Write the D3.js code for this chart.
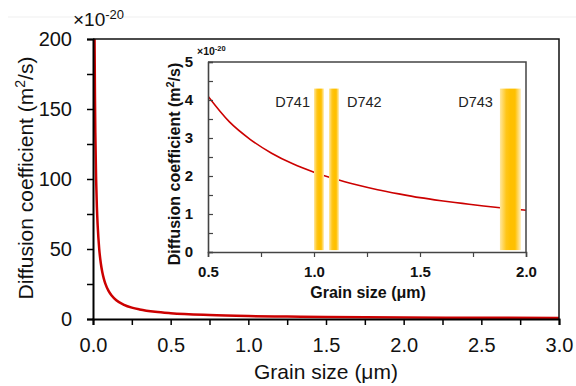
<!DOCTYPE html>
<html>
<head>
<meta charset="utf-8">
<script src="https://cdn.jsdelivr.net/npm/d3@7"></script>
<style>
  html, body { margin: 0; padding: 0; background: #fff; }
  svg { display: block; font-family: Arial, "Liberation Sans", sans-serif; }
</style>
</head>
<body>
<svg id="chart" width="576" height="386"></svg>
<script>
// ---- data ----
const mainGrain = [0.01, 0.0125, 0.015, 0.02, 0.025, 0.03, 0.04, 0.05, 0.06, 0.07, 0.08, 0.1, 0.12, 0.15, 0.2, 0.25, 0.3, 0.4, 0.5, 0.75, 1.0, 1.25, 1.5, 2.0, 2.5, 3.0];
const mainD     = [200, 160, 133, 100, 80, 67, 50, 40, 33.4, 28.7, 25.1, 20.1, 16.8, 13.4, 10.1, 8.1, 6.8, 5.1, 4.1, 2.8, 2.1, 1.7, 1.43, 1.1, 0.9, 0.77];

const insetGrain = [0.5, 0.6, 0.7, 0.8, 0.9, 1.0, 1.1, 1.2, 1.3, 1.4, 1.5, 1.6, 1.7, 1.8, 1.9, 2.0];
const insetD     = [4.1, 3.43, 2.96, 2.6, 2.32, 2.1, 1.92, 1.77, 1.64, 1.53, 1.43, 1.35, 1.28, 1.21, 1.15, 1.1];

const bandLabels = ["D741", "D742", "D743"];
const bandStart  = [1.0, 1.071, 1.877];
const bandEnd    = [1.047, 1.118, 1.976];
const bandTop    = 4.3;
const bandBottom = 0.05;

const mainXTicks = [0, 0.5, 1.0, 1.5, 2.0, 2.5, 3.0];
const mainXMinor = [0.25, 0.75, 1.25, 1.75, 2.25, 2.75];
const mainYTicks = [0, 50, 100, 150, 200];
const mainYMinor = [25, 75, 125, 175];
const insetXTicks = [0.5, 1.0, 1.5, 2.0];
const insetXMinor = [0.75, 1.25, 1.75];
const insetYTicks = [0, 1, 2, 3, 4, 5];
const insetYMinor = [0.5, 1.5, 2.5, 3.5, 4.5];

// ---- layout ----
const svg = d3.select("#chart");
const M = { left: 93, right: 559, top: 39, bottom: 319 };
const I = { left: 208, right: 526, top: 62, bottom: 252 };

svg.append("line").attr("x1", 8).attr("x2", 576).attr("y1", 17).attr("y2", 17)
  .attr("stroke", "#efefef").attr("stroke-width", 1);

const x = d3.scaleLinear().domain([0, 3]).range([M.left, M.right]);
const y = d3.scaleLinear().domain([0, 200]).range([M.bottom, M.top]);

const defs = svg.append("defs");
defs.append("clipPath").attr("id", "mainClip").append("rect")
  .attr("x", M.left).attr("y", M.top).attr("width", M.right - M.left).attr("height", M.bottom - M.top);
defs.append("clipPath").attr("id", "insetClip").append("rect")
  .attr("x", I.left).attr("y", I.top).attr("width", I.right - I.left).attr("height", I.bottom - I.top);
const grad = defs.append("linearGradient").attr("id", "bandGrad")
  .attr("x1", "0%").attr("x2", "100%").attr("y1", "0%").attr("y2", "0%");
[["0%", "#FFE7A0"], ["30%", "#FFC619"], ["50%", "#FFC000"], ["72%", "#FFC000"], ["100%", "#FFEFC0"]]
  .forEach(([o, c]) => grad.append("stop").attr("offset", o).attr("stop-color", c));

// main curve
const mainPts = mainGrain.map((g, i) => [g, mainD[i]]);
svg.append("path").datum(mainPts)
  .attr("clip-path", "url(#mainClip)")
  .attr("fill", "none").attr("stroke", "#CC0000").attr("stroke-width", 2.5)
  .attr("d", d3.line().x(d => x(d[0])).y(d => y(d[1])).curve(d3.curveMonotoneX));

// main frame top/right
svg.append("path")
  .attr("d", `M${M.left},${M.top}H${M.right}V${M.bottom}`)
  .attr("fill", "none").attr("stroke", "#111").attr("stroke-width", 1.5);

// main axes
function styleAxis(g, color, w, fontSize, weight) {
  g.select(".domain").attr("stroke", color).attr("stroke-width", w);
  g.selectAll(".tick line").attr("stroke", color).attr("stroke-width", w * 0.75);
  g.selectAll(".tick text").attr("fill", "#111").attr("font-size", fontSize)
    .attr("font-weight", weight).attr("font-family", 'Arial, "Liberation Sans", sans-serif');
}

const gx = svg.append("g").attr("transform", `translate(0,${M.bottom})`)
  .call(d3.axisBottom(x).tickValues(mainXTicks).tickFormat(d3.format(".1f")).tickSizeOuter(0).tickSize(6).tickPadding(13));
styleAxis(gx, "#000", 2, 20, "normal");
svg.append("g").attr("transform", `translate(0,${M.bottom})`)
  .call(d3.axisBottom(x).tickValues(mainXMinor).tickFormat("").tickSizeOuter(0).tickSize(6))
  .call(g => { g.select(".domain").remove(); g.selectAll("line").attr("stroke", "#000").attr("stroke-width", 1.5); });

const gy = svg.append("g").attr("transform", `translate(${M.left},0)`)
  .call(d3.axisLeft(y).tickValues(mainYTicks).tickFormat(d3.format("d")).tickSizeOuter(0).tickSize(6).tickPadding(15));
styleAxis(gy, "#000", 2, 20, "normal");
svg.append("g").attr("transform", `translate(${M.left},0)`)
  .call(d3.axisLeft(y).tickValues(mainYMinor).tickFormat("").tickSizeOuter(0).tickSize(6))
  .call(g => { g.select(".domain").remove(); g.selectAll("line").attr("stroke", "#000").attr("stroke-width", 1.5); });

// main titles
svg.append("text").attr("x", 326).attr("y", 379).attr("text-anchor", "middle")
  .attr("font-size", 21).attr("fill", "#111").text("Grain size (μm)");
const yt = svg.append("text").attr("transform", "translate(33,178) rotate(-90)")
  .attr("text-anchor", "middle").attr("font-size", 21).attr("fill", "#111");
yt.append("tspan").text("Diffusion coefficient (m");
yt.append("tspan").attr("font-size", 14).attr("dy", -8).text("2");
yt.append("tspan").attr("dy", 8).text("/s)");

const ex = svg.append("text").attr("x", 73).attr("y", 26).attr("font-size", 19).attr("fill", "#111");
ex.append("tspan").text("×10");
ex.append("tspan").attr("font-size", 13).attr("dy", -7).text("-20");

// ---- inset ----
const xi = d3.scaleLinear().domain([0.5, 2.0]).range([I.left, I.right]);
const yi = d3.scaleLinear().domain([0, 5]).range([I.bottom, I.top]);

svg.append("rect").attr("x", I.left).attr("y", I.top)
  .attr("width", I.right - I.left).attr("height", I.bottom - I.top).attr("fill", "#fff");

const insetPts = insetGrain.map((g, i) => [g, insetD[i]]);
svg.append("path").datum(insetPts)
  .attr("clip-path", "url(#insetClip)")
  .attr("fill", "none").attr("stroke", "#CC0000").attr("stroke-width", 1.6)
  .attr("d", d3.line().x(d => xi(d[0])).y(d => yi(d[1])).curve(d3.curveMonotoneX));

const bands = bandLabels.map((l, i) => ({ label: l, s: bandStart[i], e: bandEnd[i] }));
svg.append("g").selectAll("rect").data(bands).join("rect")
  .attr("x", d => xi(d.s)).attr("width", d => xi(d.e) - xi(d.s))
  .attr("y", yi(bandTop)).attr("height", yi(bandBottom) - yi(bandTop))
  .attr("fill", "url(#bandGrad)");

const labelAnchor = ["end", "start", "end"];
const labelOffset = [-4, 8, -7];
svg.append("g").selectAll("text").data(bands).join("text")
  .attr("x", (d, i) => (labelAnchor[i] === "end" ? xi(d.s) : xi(d.e)) + labelOffset[i])
  .attr("y", 107).attr("text-anchor", (d, i) => labelAnchor[i])
  .attr("font-size", 14.5).attr("fill", "#222").text(d => d.label);

// inset frame top/right
svg.append("path")
  .attr("d", `M${I.left},${I.top}H${I.right}V${I.bottom}`)
  .attr("fill", "none").attr("stroke", "#444").attr("stroke-width", 1.5);

const gxi = svg.append("g").attr("transform", `translate(0,${I.bottom})`)
  .call(d3.axisBottom(xi).tickValues(insetXTicks).tickFormat(d3.format(".1f")).tickSizeOuter(0).tickSize(5).tickPadding(9));
styleAxis(gxi, "#444", 1.6, 15, "bold");
svg.append("g").attr("transform", `translate(0,${I.bottom})`)
  .call(d3.axisBottom(xi).tickValues(insetXMinor).tickFormat("").tickSizeOuter(0).tickSize(5))
  .call(g => { g.select(".domain").remove(); g.selectAll("line").attr("stroke", "#444").attr("stroke-width", 1.2); });

const gyi = svg.append("g").attr("transform", `translate(${I.left},0)`)
  .call(d3.axisLeft(yi).tickValues(insetYTicks).tickFormat(d3.format("d")).tickSizeOuter(0).tickSize(-5).tickPadding(15));
styleAxis(gyi, "#444", 1.6, 15, "bold");
svg.append("g").attr("transform", `translate(${I.left},0)`)
  .call(d3.axisLeft(yi).tickValues(insetYMinor).tickFormat("").tickSizeOuter(0).tickSize(-5))
  .call(g => { g.select(".domain").remove(); g.selectAll("line").attr("stroke", "#444").attr("stroke-width", 1.2); });

svg.append("text").attr("x", 368).attr("y", 298).attr("text-anchor", "middle")
  .attr("font-size", 16).attr("font-weight", "bold").attr("fill", "#111").text("Grain size (μm)");
const yti = svg.append("text").attr("transform", "translate(180,164) rotate(-90)")
  .attr("text-anchor", "middle").attr("font-size", 16).attr("font-weight", "bold").attr("fill", "#111");
yti.append("tspan").text("Diffusion coefficient (m");
yti.append("tspan").attr("font-size", 11).attr("dy", -6).text("2");
yti.append("tspan").attr("dy", 6).text("/s)");

const exi = svg.append("text").attr("x", 197).attr("y", 55).attr("font-size", 10.5).attr("font-weight", "bold").attr("fill", "#111");
exi.append("tspan").text("×10");
exi.append("tspan").attr("font-size", 7.5).attr("dy", -4).text("-20");
</script>
</body>
</html>
